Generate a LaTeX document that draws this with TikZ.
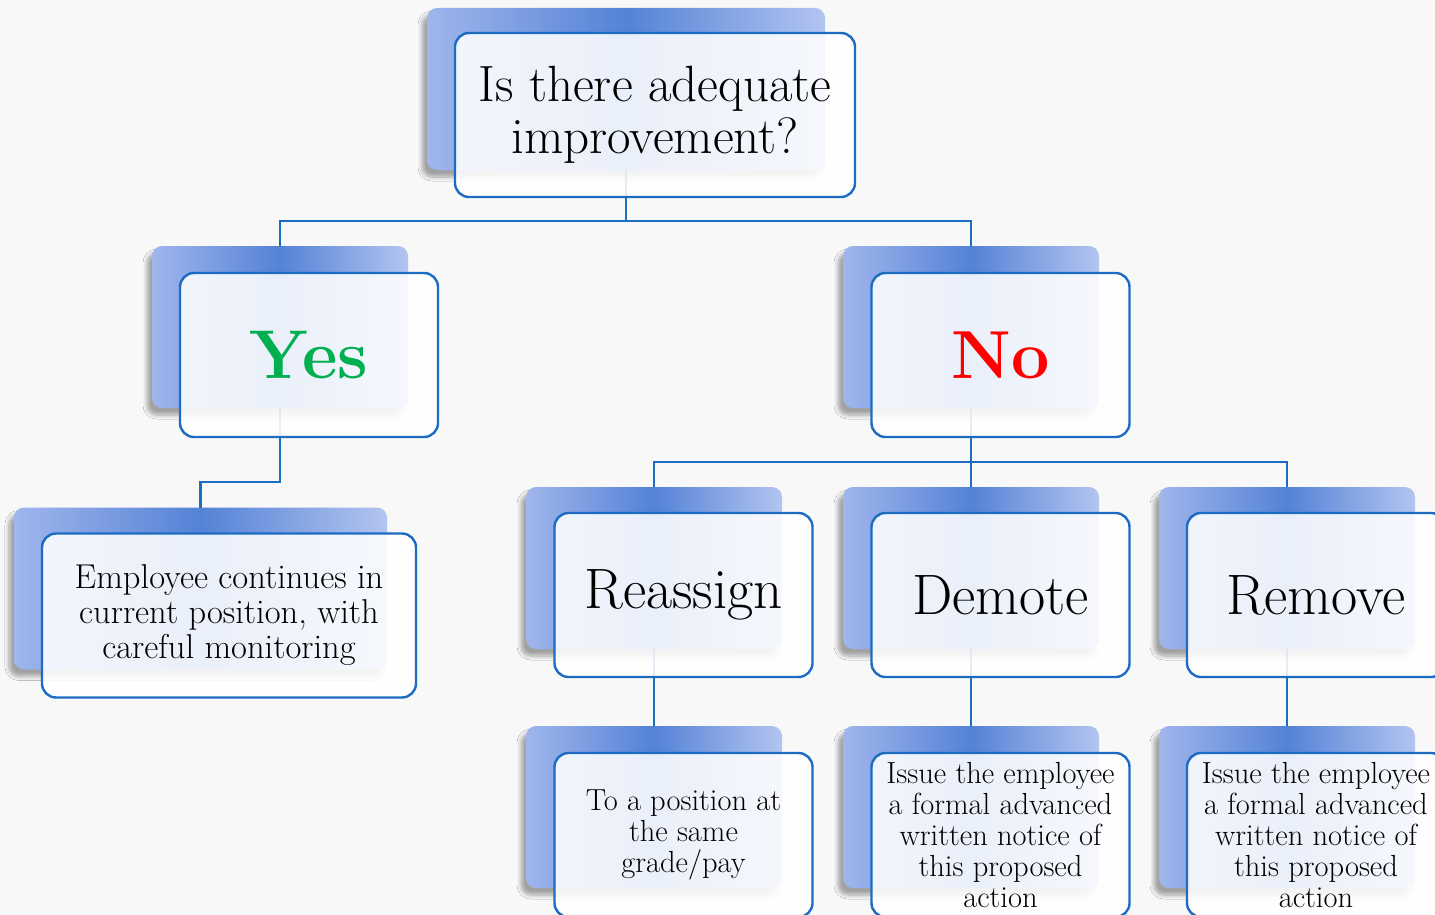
\documentclass[tikz,border=0pt]{standalone}
\usetikzlibrary{shadows.blur,backgrounds}
\definecolor{bgc}{RGB}{248,248,248}
\definecolor{boxblue}{RGB}{28,108,194}
\definecolor{shL}{RGB}{160,182,236}
\definecolor{shM}{RGB}{84,130,214}
\definecolor{yesgreen}{RGB}{0,176,80}
\definecolor{nored}{RGB}{255,0,0}
\tikzset{
  shadbox/.style={rectangle, rounded corners=10pt, minimum width=256pt, minimum height=162pt,
    left color=shL, right color=shL!80, middle color=shM,
    blur shadow={shadow xshift=-5pt, shadow yshift=-7pt, shadow blur steps=6, shadow blur radius=4pt, shadow opacity=35}},
  frontbox/.style={rectangle, rounded corners=14pt, draw=boxblue, line width=2.4pt,
    fill=white, fill opacity=0.88, text opacity=1, minimum width=258pt, minimum height=164pt,
    align=center, inner sep=0pt},
  conn/.style={draw=boxblue, line width=2.4pt},
  big/.style={font=\fontsize{57}{60}\selectfont},
  mid/.style={font=\fontsize{34.5}{35}\selectfont},
  small/.style={font=\fontsize{30.5}{31}\selectfont},
}
\begin{document}
\begin{tikzpicture}[x=1pt,y=-1pt]
\clip (0,0) rectangle (1435,915);
% shadow boxes
\node[shadbox, minimum width=398pt] (topS) at (626,89) {};
\node[shadbox] (yesS) at (280,327) {};
\node[shadbox] (noS) at (971,327) {};
\node[shadbox, minimum width=373pt] (empS) at (200.5,588.5) {};
\node[shadbox] (reaS) at (654,568) {};
\node[shadbox] (demS) at (971,568) {};
\node[shadbox] (remS) at (1287,568) {};
\node[shadbox] (posS) at (654,807) {};
\node[shadbox] (isdS) at (971,807) {};
\node[shadbox] (isrS) at (1287,807) {};
% front boxes
\node[frontbox, minimum width=400pt, font=\fontsize{51}{52}\selectfont] (top) at (655,115) {Is there adequate\\improvement?};
\node[frontbox, font=\fontsize{69}{72}\selectfont\bfseries, text=yesgreen] (yes) at (309,355) {Yes};
\node[frontbox, font=\fontsize{68}{72}\selectfont\bfseries, text=nored] (no) at (1000.5,355) {No};
\node[frontbox, minimum width=374pt, mid] (emp) at (229,615.5) {Employee continues in\\current position, with\\careful monitoring};
\node[frontbox, big] (rea) at (683.5,595) {Reassign};
\node[frontbox, big] (dem) at (1000.5,595) {Demote};
\node[frontbox, big] (rem) at (1316,595) {Remove};
\node[frontbox, small] (pos) at (683.5,835) {To a position at\\the same\\grade/pay};
\node[frontbox, small] (isd) at (1000.5,835) {Issue the employee\\a formal advanced\\written notice of\\this proposed\\action};
\node[frontbox, small] (isr) at (1316,835) {Issue the employee\\a formal advanced\\written notice of\\this proposed\\action};
% connectors
\begin{pgfonlayer}{background}
\fill[bgc] (0,0) rectangle (1435,915);
\coordinate (j1) at (626,221);
\coordinate (j2) at (280,482);
\coordinate (j3) at (971,462);
\draw[conn] (topS.center) -- (j1) -| (yesS.center);
\draw[conn] (j1) -| (noS.center);
\draw[conn] (yesS.center) -- (j2) -| (empS.center);
\draw[conn] (noS.center) -- (j3) -| (reaS.center);
\draw[conn] (j3) -| (remS.center);
\draw[conn] (j3) -- (demS.center);
\draw[conn] (reaS.center) -- (posS.center);
\draw[conn] (demS.center) -- (isdS.center);
\draw[conn] (remS.center) -- (isrS.center);
\end{pgfonlayer}
\end{tikzpicture}
\end{document}
